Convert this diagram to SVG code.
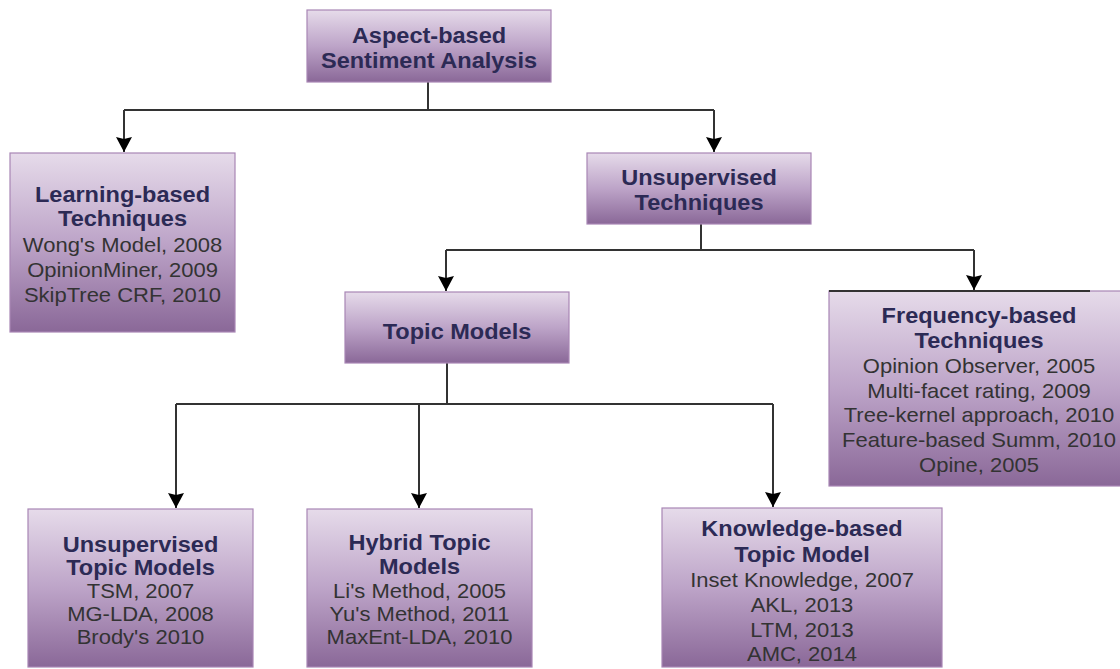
<svg xmlns="http://www.w3.org/2000/svg" width="1120" height="669" viewBox="0 0 1120 669">
<defs>
<linearGradient id="g" x1="0" y1="0" x2="0" y2="1">
<stop offset="0" stop-color="#e6dbea"/>
<stop offset="0.5" stop-color="#bda4c8"/>
<stop offset="1" stop-color="#8a6898"/>
</linearGradient>
<marker id="arr" markerUnits="userSpaceOnUse" markerWidth="16" markerHeight="18" refX="15" refY="9" orient="auto">
<path d="M0,1 L15,9 L0,17 L2,9 z" fill="#000"/>
</marker>
<style>
.box{fill:url(#g);stroke:#a886b5;stroke-width:1.2}
.t{font-family:"Liberation Sans",Arial,sans-serif;font-weight:bold;font-size:22px;fill:#2c2a55;text-anchor:middle}
.i{font-family:"Liberation Sans",Arial,sans-serif;font-size:20px;fill:#333;text-anchor:middle}
.c{fill:none;stroke:#333;stroke-width:2}
</style>
</defs>
<rect width="1120" height="669" fill="#fff"/>
<g id="connectors">
<path class="c" d="M428,82 V110 M124,110 H714"/>
<path class="c" d="M124,110 V152" marker-end="url(#arr)"/>
<path class="c" d="M714,110 V152" marker-end="url(#arr)"/>
<path class="c" d="M701,224 V250 M446,250 H974"/>
<path class="c" d="M446,250 V291" marker-end="url(#arr)"/>
<path class="c" d="M974,250 V290" marker-end="url(#arr)"/>
<path class="c" d="M447,363 V404 M176,404 H773"/>
<path class="c" d="M176,404 V508" marker-end="url(#arr)"/>
<path class="c" d="M419,404 V508" marker-end="url(#arr)"/>
<path class="c" d="M773,404 V507" marker-end="url(#arr)"/>
</g>
<g id="root">
<rect class="box" x="307" y="10" width="244" height="72"/>
<g transform="translate(429,0) scale(1.07,1)">
<text class="t" x="0" y="43">Aspect-based</text>
<text class="t" x="0" y="68">Sentiment Analysis</text>
</g>
</g>
<g id="learning">
<rect class="box" x="10" y="153" width="225" height="179"/>
<g transform="translate(122.5,0) scale(1.07,1)">
<text class="t" x="0" y="202">Learning-based</text>
<text class="t" x="0" y="226">Techniques</text>
</g>
<g transform="translate(122.5,0) scale(1.1,1)">
<text class="i" x="0" y="252">Wong's Model, 2008</text>
<text class="i" x="0" y="277">OpinionMiner, 2009</text>
<text class="i" x="0" y="302">SkipTree CRF, 2010</text>
</g>
</g>
<g id="unsupervised">
<rect class="box" x="587" y="153" width="224" height="71"/>
<g transform="translate(699,0) scale(1.07,1)">
<text class="t" x="0" y="185">Unsupervised</text>
<text class="t" x="0" y="210">Techniques</text>
</g>
</g>
<g id="topic">
<rect class="box" x="345" y="292" width="224" height="71"/>
<g transform="translate(457,0) scale(1.07,1)">
<text class="t" x="0" y="339">Topic Models</text>
</g>
</g>
<g id="frequency">
<rect class="box" x="829" y="291" width="300" height="195"/>
<line x1="829" y1="291" x2="1090" y2="291" stroke="#333" stroke-width="2"/>
<g transform="translate(979,0) scale(1.07,1)">
<text class="t" x="0" y="323">Frequency-based</text>
<text class="t" x="0" y="348">Techniques</text>
</g>
<g transform="translate(979,0) scale(1.1,1)">
<text class="i" x="0" y="373">Opinion Observer, 2005</text>
<text class="i" x="0" y="398">Multi-facet rating, 2009</text>
<text class="i" x="0" y="422">Tree-kernel approach, 2010</text>
<text class="i" x="0" y="447">Feature-based Summ, 2010</text>
<text class="i" x="0" y="472">Opine, 2005</text>
</g>
</g>
<g id="unsup-topic">
<rect class="box" x="28" y="509" width="225" height="158"/>
<g transform="translate(140.5,0) scale(1.07,1)">
<text class="t" x="0" y="552">Unsupervised</text>
<text class="t" x="0" y="575">Topic Models</text>
</g>
<g transform="translate(140.5,0) scale(1.1,1)">
<text class="i" x="0" y="598">TSM, 2007</text>
<text class="i" x="0" y="621">MG-LDA, 2008</text>
<text class="i" x="0" y="644">Brody's 2010</text>
</g>
</g>
<g id="hybrid">
<rect class="box" x="307" y="509" width="225" height="158"/>
<g transform="translate(419.5,0) scale(1.07,1)">
<text class="t" x="0" y="550">Hybrid Topic</text>
<text class="t" x="0" y="574">Models</text>
</g>
<g transform="translate(419.5,0) scale(1.1,1)">
<text class="i" x="0" y="598">Li's Method, 2005</text>
<text class="i" x="0" y="621">Yu's Method, 2011</text>
<text class="i" x="0" y="644">MaxEnt-LDA, 2010</text>
</g>
</g>
<g id="knowledge">
<rect class="box" x="662" y="508" width="280" height="159"/>
<g transform="translate(802,0) scale(1.07,1)">
<text class="t" x="0" y="536">Knowledge-based</text>
<text class="t" x="0" y="562">Topic Model</text>
</g>
<g transform="translate(802,0) scale(1.1,1)">
<text class="i" x="0" y="587">Inset Knowledge, 2007</text>
<text class="i" x="0" y="612">AKL, 2013</text>
<text class="i" x="0" y="637">LTM, 2013</text>
<text class="i" x="0" y="661">AMC, 2014</text>
</g>
</g>
</svg>
